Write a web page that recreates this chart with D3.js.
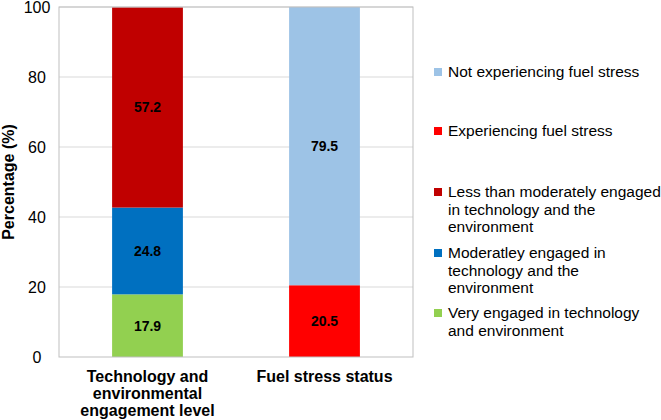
<!DOCTYPE html>
<html><head><meta charset="utf-8">
<script src="https://cdn.jsdelivr.net/npm/d3@7"></script>
<style>body{margin:0;background:#fff;}svg{display:block;font-family:Arial,"Liberation Sans",sans-serif;}</style>
</head><body><svg id="c" width="661" height="420"></svg>
<script>
const categories = ["Technology and environmental engagement level", "Fuel stress status"];
const categoryLines = [["Technology and","environmental","engagement level"],["Fuel stress status"]];
const seriesNames = ["Very engaged in technology and environment","Moderatley engaged in technology and the environment","Less than moderately engaged in technology and the environment","Experiencing fuel stress","Not experiencing fuel stress"];
const seriesColors = ["#92D050","#0070C0","#C00000","#FF0000","#9DC3E6"];
const veryEngaged = [17.9, 0];
const moderatelyEngaged = [24.8, 0];
const lessEngaged = [57.2, 0];
const experiencing = [0, 20.5];
const notExperiencing = [0, 79.5];
const yTicks = [0,20,40,60,80,100];
const legendOrder = [4,3,2,1,0];
const legendLines = [["Very engaged in technology","and environment"],["Moderatley engaged in","technology and the","environment"],["Less than moderately engaged","in technology and the","environment"],["Experiencing fuel stress"],["Not experiencing fuel stress"]];

const seriesValues = [veryEngaged, moderatelyEngaged, lessEngaged, experiencing, notExperiencing];
const svg = d3.select("#c");
const L=59, R=413, T=7, B=357;
const x = d3.scaleBand().domain(categories).range([L,R]).paddingInner(0.6).paddingOuter(0.3);
const y = d3.scaleLinear().domain([0,100]).range([B,T]);

// gridlines
svg.append("g").selectAll("line").data(yTicks.filter(d=>d>0)).join("line")
  .attr("x1",L).attr("x2",R).attr("y1",d=>y(d)).attr("y2",d=>y(d))
  .attr("stroke","#d9d9d9").attr("stroke-width",1);

// stack
const rows = categories.map((c,i)=>{const o={cat:c}; seriesValues.forEach((s,j)=>o["s"+j]=s[i]); return o;});
const stack = d3.stack().keys(seriesValues.map((_,j)=>"s"+j))(rows);
const g = svg.append("g");
stack.forEach((layer,j)=>{
  layer.forEach(d=>{
    const v = d[1]-d[0];
    if(v<=0) return;
    g.append("rect").attr("x",x(d.data.cat)).attr("width",x.bandwidth())
      .attr("y",y(d[1])).attr("height",y(d[0])-y(d[1])).attr("fill",seriesColors[j]);
    g.append("text").attr("x",x(d.data.cat)+x.bandwidth()/2).attr("y",(y(d[0])+y(d[1]))/2)
      .attr("dy","0.35em").attr("text-anchor","middle").attr("font-size",14).attr("font-weight","bold")
      .attr("fill","#000").text(v.toFixed(1));
  });
});

// plot border
svg.append("rect").attr("x",L).attr("y",T).attr("width",R-L).attr("height",B-T)
  .attr("fill","none").attr("stroke","#bfbfbf").attr("stroke-width",1);

// y axis
const ya = svg.append("g").attr("transform",`translate(${L},0)`)
  .call(d3.axisLeft(y).tickValues(yTicks).tickSize(0).tickPadding(22));
ya.select(".domain").remove();
ya.selectAll("text").attr("font-size",16).attr("font-family","Arial,'Liberation Sans',sans-serif")
  .attr("fill","#000").attr("text-anchor","middle");

svg.append("text").attr("transform",`translate(14,${(T+B)/2}) rotate(-90)`)
  .attr("text-anchor","middle").attr("font-size",16).attr("font-weight","bold").text("Percentage (%)");

// x labels
categories.forEach((c,i)=>{
  const t = svg.append("text").attr("x",x(c)+x.bandwidth()/2).attr("y",382)
    .attr("text-anchor","middle").attr("font-size",16).attr("font-weight","bold");
  categoryLines[i].forEach((ln,k)=>t.append("tspan").attr("x",x(c)+x.bandwidth()/2).attr("dy",k?17:0).text(ln));
});

// legend
const legendY = [72,131,192,253,313];
legendOrder.forEach((j,idx)=>{
  const yy = legendY[idx];
  svg.append("rect").attr("x",434).attr("y",yy-4).attr("width",8).attr("height",8).attr("fill",seriesColors[j]);
  const t = svg.append("text").attr("x",448).attr("y",yy).attr("font-size",15.5);
  legendLines[j].forEach((ln,k)=>t.append("tspan").attr("x",448).attr("dy",k?"17.5":"0.35em").text(ln));
});
</script></body></html>
